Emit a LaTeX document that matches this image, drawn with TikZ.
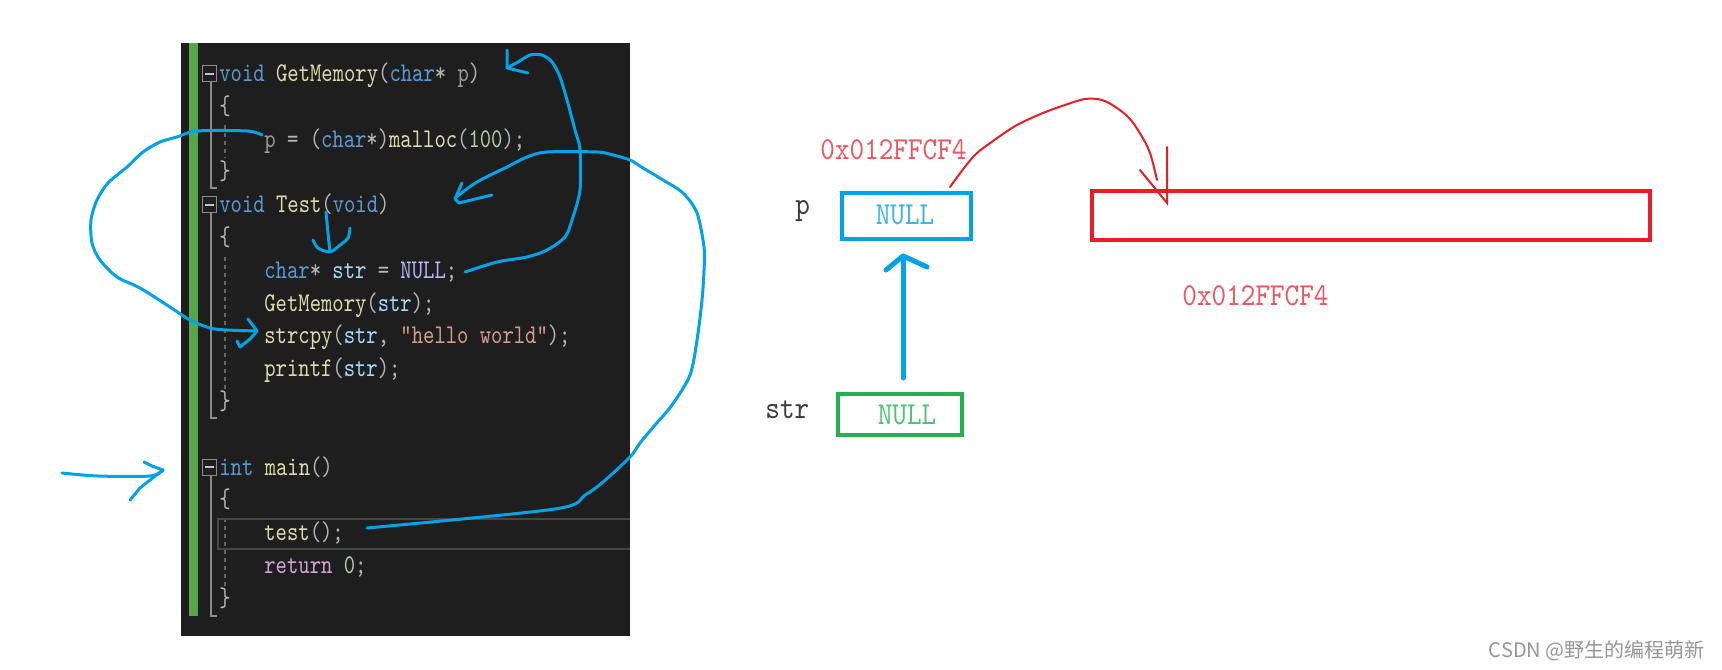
\documentclass[tikz,border=0pt]{standalone}
\usepackage{fontspec}
\newfontfamily\codefont[Extension=.otf, FakeStretch=0.80]{lmmono10-regular}
\newfontfamily\labfont[Extension=.otf, FakeStretch=0.87]{lmmono10-regular}
\newfontfamily\cjkfont{Noto Sans CJK SC}
\definecolor{panelbg}{RGB}{30,30,30}
\definecolor{gbar}{RGB}{87,166,74}
\definecolor{kwc}{RGB}{86,156,214}
\definecolor{fnc}{RGB}{220,220,170}
\definecolor{puc}{RGB}{180,180,180}
\definecolor{pac}{RGB}{154,154,154}
\definecolor{vac}{RGB}{156,220,254}
\definecolor{mcc}{RGB}{190,183,255}
\definecolor{stc}{RGB}{214,157,133}
\definecolor{nmc}{RGB}{181,206,168}
\definecolor{rkc}{RGB}{216,160,223}
\definecolor{pen}{RGB}{0,162,232}
\definecolor{pred}{RGB}{237,28,36}
\definecolor{pgreen}{RGB}{34,177,76}
\definecolor{lred}{RGB}{240,85,95}
\definecolor{lblue}{RGB}{60,178,236}
\definecolor{lgreen}{RGB}{75,196,115}
\definecolor{foldc}{RGB}{140,140,140}
\definecolor{guidec}{RGB}{100,100,100}
\definecolor{hlc}{RGB}{70,70,70}
\definecolor{wmc}{RGB}{150,150,150}
\definecolor{labc}{RGB}{60,60,60}
\newcommand\cckw[1]{\textcolor{kwc}{#1}}
\newcommand\ccfn[1]{\textcolor{fnc}{#1}}
\newcommand\ccpu[1]{\textcolor{puc}{#1}}
\newcommand\ccpa[1]{\textcolor{pac}{#1}}
\newcommand\ccva[1]{\textcolor{vac}{#1}}
\newcommand\ccmc[1]{\textcolor{mcc}{#1}}
\newcommand\ccst[1]{\textcolor{stc}{#1}}
\newcommand\ccnm[1]{\textcolor{nmc}{#1}}
\newcommand\ccrk[1]{\textcolor{rkc}{#1}}
\tikzset{
  codeline/.style={anchor=base west, inner sep=0pt, font=\codefont\fontsize{13.5}{13.5}\selectfont},
  foldbox/.style={draw=foldc, line width=0.6pt, fill=panelbg, minimum width=7pt, minimum height=8pt, inner sep=0pt},
  foldline/.style={draw=foldc, line width=0.6pt},
  guide/.style={draw=guidec, line width=0.6pt, dash pattern=on 2pt off 2pt},
  penline/.style={draw=pen, line width=1.5pt, line cap=round, line join=round},
  lab/.style={inner sep=0pt, font=\labfont\fontsize{16}{16}\selectfont},
  membox/.style={draw, line width=2pt, inner sep=0pt},
}
\begin{document}
\begin{tikzpicture}[x=0.5pt,y=-0.5pt]
\useasboundingbox (0,0) rectangle (1722,669);
% panel
\fill[panelbg] (181,43) rectangle (630,636);
\fill[gbar] (189,43) rectangle (198,616);
% fold markers
\draw[foldline] (211,81) -- (211,188) -- (217,188);
\draw[foldline] (211,212) -- (211,418) -- (217,418);
\draw[foldline] (211,475) -- (211,616) -- (217,616);
\node[foldbox] (f1) at (209.5,73.5) {};
\node[foldbox] (f2) at (209.5,204.7) {};
\node[foldbox] (f3) at (209.5,467.1) {};
\foreach \n in {f1,f2,f3}{
  \draw[draw=puc!80!white, line width=1pt] ([xshift=-2.2pt]\n.center) -- ([xshift=2.2pt]\n.center);
}
% indentation guides
\draw[guide] (225,125) -- (225,158);
\draw[guide] (225,257) -- (225,392);
\draw[guide] (225,518) -- (225,588);
% current line highlight
\draw[draw=hlc, line width=1.3pt] (630,519) -- (218,519) -- (218,549) -- (630,549);
% code
\node[codeline] (l0) at (219,81.5) {\cckw{void} \ccfn{GetMemory}\ccpu{(}\cckw{char}\ccpu{*} \ccpa{p}\ccpu{)}};
\node[codeline] (l1) at (219,114.3) {\ccpu{\{}};
\node[codeline] (l2) at (264,147.1) {\ccpa{p} \ccpu{= (}\cckw{char}\ccpu{*)}\ccfn{malloc}\ccpu{(}\ccnm{100}\ccpu{);}};
\node[codeline] (l3) at (219,179.9) {\ccpu{\}}};
\node[codeline] (l4) at (219,212.7) {\cckw{void} \ccfn{Test}\ccpu{(}\cckw{void}\ccpu{)}};
\node[codeline] (l5) at (219,245.5) {\ccpu{\{}};
\node[codeline] (l6) at (264,278.3) {\cckw{char}\ccpu{*} \ccva{str} \ccpu{=} \ccmc{NULL}\ccpu{;}};
\node[codeline] (l7) at (264,311.1) {\ccfn{GetMemory}\ccpu{(}\ccva{str}\ccpu{);}};
\node[codeline] (l8) at (264,343.9) {\ccfn{strcpy}\ccpu{(}\ccva{str}\ccpu{,} \ccst{"hello world"}\ccpu{);}};
\node[codeline] (l9) at (264,376.7) {\ccfn{printf}\ccpu{(}\ccva{str}\ccpu{);}};
\node[codeline] (l10) at (219,409.5) {\ccpu{\}}};
\node[codeline] (l12) at (219,475.1) {\cckw{int} \ccfn{main}\ccpu{()}};
\node[codeline] (l13) at (219,507.9) {\ccpu{\{}};
\node[codeline] (l14) at (264,540.7) {\ccfn{test}\ccpu{();}};
\node[codeline] (l15) at (264,573.5) {\ccrk{return} \ccnm{0}\ccpu{;}};
\node[codeline] (l16) at (219,606.3) {\ccpu{\}}};
% hand-drawn blue strokes
\draw[penline] plot[smooth, tension=0.5] coordinates {(262,135) (247,131) (197,131) (177,137) (160,142) (143,152) (127,167) (108,183) (97,200) (91,220) (92,243) (100,260) (117,277) (140,288) (170,307) (190,320) (210,328) (227,330) (257,331)};
\draw[penline] (248,319) -- (257,331) -- (250,339) -- (240,347) -- (237,341);
\draw[penline] plot[smooth, tension=0.5] coordinates {(465,272) (497,262) (527,257) (547,250) (565,237) (572,220) (580,190) (580,150) (575,130) (567,100) (560,77) (552,62) (542,55) (530,55) (518,62) (507,68)};
\draw[penline] (507,50) -- (507,68) -- (528,73);
\draw[penline] plot[smooth, tension=0.5] coordinates {(367,528) (555,509) (585,495) (603,482) (630,457) (640,443) (655,425) (672,405) (690,375) (697,340) (702,300) (704,270) (704,247) (697,213) (683,193) (663,180) (643,168) (630,160) (613,155) (597,152) (547,152) (527,157) (507,167) (477,182) (455,198)};
\draw[penline] (462,183) -- (455,199) -- (459,203) -- (492,195);
\draw[penline] plot[smooth, tension=0.5] coordinates {(326,212) (328,233) (330,252)};
\draw[penline] plot[smooth, tension=0.5] coordinates {(313,240) (318,248) (330,252) (340,245) (348,238) (350,228)};
\draw[penline] plot[smooth, tension=0.5] coordinates {(62,473) (98,476) (150,476) (163,470)};
\draw[penline] (144,462) -- (152,466) -- (163,470) -- (150,480) -- (140,488) -- (130,500);
% right: memory diagram
\node[lab, text=lred, anchor=base west] (addr1) at (820,159) {0x012FFCF4};
\node[lab, text=labc, anchor=base west] (plab) at (795,214) {p};
\node[membox, draw=pen, minimum width=64.5pt, minimum height=23pt] (pbox) at (906.5,216) {};
\node[lab, text=lblue, anchor=base] (pnull) at (905,224) {NULL};
\node[lab, text=labc, anchor=base west] (slab) at (765,418) {str};
\node[membox, draw=pgreen, minimum width=62pt, minimum height=20.5pt] (sbox) at (900,414.5) {};
\node[lab, text=lgreen, anchor=base] (snull) at (907,424) {NULL};
\node[membox, draw=pred, line width=2.25pt, minimum width=279pt, minimum height=24.5pt] (heap) at (1371,215.5) {};
\node[lab, text=lred, anchor=base west] (addr2) at (1182,305) {0x012FFCF4};
% blue arrow str -> p
\coordinate (ua) at (903,378);
\coordinate (ub) at (903,256);
\draw[draw=pen, line width=2.5pt, line cap=round, line join=round] (ua) -- (ub);
\draw[draw=pen, line width=2.5pt, line cap=round, line join=round] (886,270) -- (ub) -- (912,260) -- (927,267);
% red curve p -> heap
\draw[draw=pred, line width=1pt, line cap=round] plot[smooth, tension=0.55] coordinates {(950,187) (973,157) (993,141) (1017,125) (1043,113) (1065,105) (1085,99) (1102,100) (1117,108) (1130,119) (1141,135) (1150,153) (1157,180)};
\draw[draw=pred, line width=1pt, line cap=round, line join=miter] (1140,170) -- (1167,203) -- (1167,147);
% watermark
\node[anchor=base east, inner sep=0pt, text=wmc, font=\cjkfont\fontsize{10}{10}\selectfont] (wm) at (1705,657) {CSDN @野生的编程萌新};
\end{tikzpicture}
\end{document}
